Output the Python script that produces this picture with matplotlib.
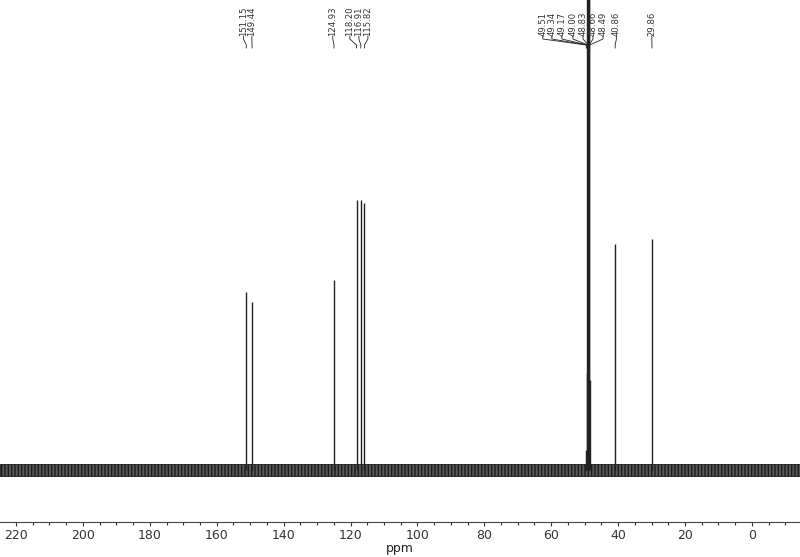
import matplotlib
matplotlib.use("Agg")
import matplotlib.pyplot as plt
import matplotlib.transforms as mtransforms

# 13C peaks (ppm) and their heights
peak_ppm = [151.15, 149.44, 124.93, 118.20, 116.91, 115.82,
            49.51, 49.34, 49.17, 49.00, 48.83, 48.66, 48.49,
            40.86, 29.86]
peak_height = [178, 168, 190, 270, 270, 267,
               20, 97, 520, 700, 800, 520, 90,
               226, 231]

# where the rotated peak labels sit (ppm), spread so they do not overlap
label_pos = [152.0, 149.5, 125.3, 120.2, 117.5, 114.8,
             62.5, 59.8, 56.8, 53.5, 50.5, 47.5, 44.5,
             40.5, 29.9]

noise_level = 6

fig = plt.figure(figsize=(8, 5.57), dpi=100)
ax = fig.add_axes([0, 1 - 522 / 557, 1, 522 / 557])

# baseline noise drawn as a band
ax.fill_between([224.8, -14.4], -noise_level, noise_level,
                facecolor="#5a5a5a", edgecolor="#1a1a1a", lw=0.6,
                hatch="|||||", zorder=1)

ax.vlines(peak_ppm, 0, peak_height, color="#222222", lw=1.0, zorder=2)

ax.set_xlim(224.8, -14.4)
ax.set_ylim(-52, 470)

# labels with leader lines, y given in pixels from the top of the axes
trans = mtransforms.blended_transform_factory(ax.transData, ax.transAxes)
h = 522.0
for ppm, pos in zip(peak_ppm, label_pos):
    ax.text(pos, 1 - 36 / h, f"{ppm:.2f}", rotation=90, ha="center",
            va="bottom", fontsize=6.1, color="#333333", transform=trans)
    ax.plot([pos, pos, ppm, ppm],
            [1 - 36 / h, 1 - 39 / h, 1 - 45 / h, 1 - 48 / h],
            color="#222222", lw=0.6, transform=trans, clip_on=False)

for side in ["left", "right", "top"]:
    ax.spines[side].set_visible(False)
ax.spines["bottom"].set_color("#444444")
ax.spines["bottom"].set_linewidth(0.8)
ax.set_yticks([])
ax.set_xticks(range(220, -1, -20))
ax.set_xticks(range(220, -15, -5), minor=True)
ax.tick_params(axis="x", which="major", length=3, width=0.8, colors="#333333",
               labelsize=9, pad=2)
ax.tick_params(axis="x", which="minor", length=2, width=0.8, colors="#333333")
ax.set_xlabel("ppm", fontsize=9, labelpad=0, color="#222222")

fig.savefig("out.png", dpi=100)
